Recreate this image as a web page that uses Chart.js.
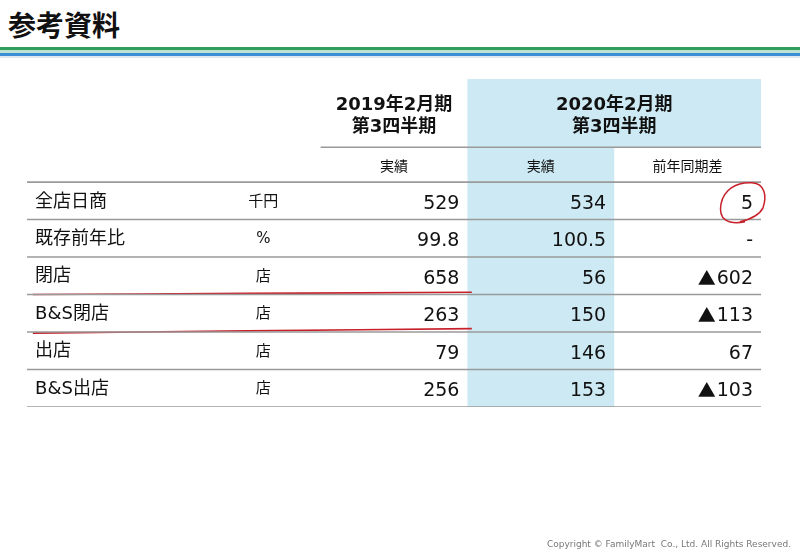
<!DOCTYPE html>
<html lang="ja">
<head>
<meta charset="utf-8">
<script src="https://cdn.jsdelivr.net/npm/chart.js@4.4.1/dist/chart.umd.min.js"></script>
<style>
  html, body { margin: 0; padding: 0; background: #fff; }
  #page { position: relative; width: 800px; height: 554px; overflow: hidden; }
  #title { position: absolute; left: 8px; top: 4px; font: bold 28px "Noto Sans CJK JP", sans-serif; color: #111; }
  .stripe { position: absolute; left: 0; width: 800px; }
  #copy { position: absolute; right: 9px; top: 539px; font: 9px "DejaVu Sans", sans-serif; color: #777; }
  #table { position: absolute; left: 0; top: 0; }
</style>
</head>
<body>
<div id="page">
  <div id="title">参考資料</div>
  <div class="stripe" style="top:47px;height:3px;background:#2e9e5e"></div>
  <div class="stripe" style="top:50px;height:3px;background:#bfe3d3"></div>
  <div class="stripe" style="top:53px;height:3px;background:#3b8fd6"></div>
  <div class="stripe" style="top:56px;height:2px;background:#dfe8f0"></div>
  <canvas id="table" width="800" height="554"></canvas>
  <div id="copy">Copyright © FamilyMart&nbsp; Co., Ltd. All Rights Reserved.</div>
</div>
<script>
// ---- table data ----
const rowLabels = ['全店日商', '既存前年比', '閉店', 'B&S閉店', '出店', 'B&S出店'];
const rowUnits = ['千円', '%', '店', '店', '店', '店'];
const fy2019 = [529, 99.8, 658, 263, 79, 256];
const fy2020 = [534, 100.5, 56, 150, 146, 153];
const yoyDiff = [5, null, -602, -113, 67, -103];
const periodHeaders = [['2019年2月期', '第3四半期'], ['2020年2月期', '第3四半期']];
const subHeaders = ['実績', '実績', '前年同期差'];
const markedRows = [2, 3];      // red underlines (hand annotation)
const circledRow = 0;           // red circle on 前年同期差

// grid in scale units: x columns at 0 | 2 | 3 | 4 | 5, rows at integer y
const colEdges = [0, 2, 3, 4, 5];
const headTop = -2.75;
const headLine = -0.93;

const fmt = (v, i) => (v === null ? '-' : (i === 1 ? v.toFixed(1) : String(Math.abs(v))));

const gridSets = [];
gridSets.push({ data: [{ x: colEdges[1], y: headLine }, { x: colEdges[4], y: headLine }] });
for (let r = 0; r <= rowLabels.length; r++) {
  gridSets.push({ data: [{ x: colEdges[0], y: r }, { x: colEdges[4], y: r }] });
}
const datasets = gridSets.map((d) => ({
  type: 'line', data: d.data, borderColor: '#9a9a9a', borderWidth: 1.6, pointRadius: 0, fill: false,
}));
markedRows.forEach((r, k) => {
  const tilt = k === 0 ? 0.04 : 0.1;
  datasets.push({
    type: 'line',
    data: [{ x: 0.04, y: r + 1 + tilt / 2 - 0.02 }, { x: 1.5, y: r + 1 - 0.03 }, { x: colEdges[2] + 0.03, y: r + 1 - tilt / 2 - 0.04 }],
    borderColor: '#c8202a', borderWidth: 1.6, pointRadius: 0, fill: false, tension: 0.3,
  });
});

const tablePlugin = {
  id: 'tablePlugin',
  beforeDatasetsDraw(chart) {
    const { ctx, scales: { x, y } } = chart;
    ctx.save();
    ctx.fillStyle = '#cdeaf4';
    const hx0 = x.getPixelForValue(colEdges[2]);
    const hx1 = x.getPixelForValue(colEdges[4]);
    const hy0 = y.getPixelForValue(headTop);
    const hy1 = y.getPixelForValue(headLine);
    ctx.fillRect(hx0, hy0, hx1 - hx0, hy1 - hy0);
    const cx1 = x.getPixelForValue(colEdges[3]);
    const by = y.getPixelForValue(rowLabels.length);
    ctx.fillRect(hx0, hy1, cx1 - hx0, by - hy1);
    ctx.restore();
  },
  afterDatasetsDraw(chart) {
    const { ctx, scales: { x, y } } = chart;
    ctx.save();
    ctx.fillStyle = '#111';
    ctx.textBaseline = 'middle';

    // period headers
    ctx.font = 'bold 18px "DejaVu Sans", "Noto Sans CJK JP"';
    ctx.textAlign = 'center';
    const hMid = y.getPixelForValue((headTop + headLine) / 2);
    periodHeaders.forEach((lines, i) => {
      const cx = i === 0
        ? (x.getPixelForValue(colEdges[1]) + x.getPixelForValue(colEdges[2])) / 2
        : (x.getPixelForValue(colEdges[2]) + x.getPixelForValue(colEdges[4])) / 2;
      ctx.fillText(lines[0], cx, hMid - 8);
      ctx.fillText(lines[1], cx, hMid + 14);
    });

    // sub headers
    ctx.font = '14px "Noto Sans CJK JP"';
    const sMid = y.getPixelForValue(headLine / 2) + 1;
    subHeaders.forEach((t, i) => {
      const cx = (x.getPixelForValue(colEdges[i + 1]) + x.getPixelForValue(colEdges[i + 2])) / 2;
      ctx.fillText(t, cx, sMid);
    });

    // rows
    rowLabels.forEach((lab, r) => {
      const cy = y.getPixelForValue(r + 0.5);
      ctx.textAlign = 'left';
      ctx.font = '18px "DejaVu Sans", "Noto Sans CJK JP"';
      ctx.fillStyle = '#111';
      ctx.fillText(lab, x.getPixelForValue(0.055), cy + 1);
      ctx.textAlign = 'center';
      ctx.font = '15px "DejaVu Sans", "Noto Sans CJK JP"';
      ctx.fillText(rowUnits[r], x.getPixelForValue(1.61), cy + 1);

      ctx.textAlign = 'right';
      const cols = [fy2019[r], fy2020[r], yoyDiff[r]];
      cols.forEach((v, c) => {
        const rx = x.getPixelForValue(colEdges[c + 2]) - 8;
        const txt = fmt(v, r);
        ctx.font = '19px "DejaVu Sans"';
        ctx.fillText(txt, rx, cy + 3);
        if (v !== null && v < 0) {
          const w = ctx.measureText(txt).width;
          ctx.font = '18px "Noto Sans CJK JP"';
          ctx.fillText('▲', rx - w - 1, cy + 2);
        }
      });
    });

    // hand-drawn circle around the circled diff
    const ccx = x.getPixelForValue(colEdges[4]) - 19;
    const ccy = y.getPixelForValue(circledRow + 0.5) + 1;
    ctx.strokeStyle = '#c8202a';
    ctx.lineWidth = 1.5;
    ctx.beginPath();
    ctx.moveTo(ccx + 3, ccy + 20);
    ctx.bezierCurveTo(ccx - 14, ccy + 23, ccx - 24, ccy + 18, ccx - 21, ccy + 2);
    ctx.bezierCurveTo(ccx - 18, ccy - 12, ccx - 6, ccy - 20, ccx + 10, ccy - 19);
    ctx.bezierCurveTo(ccx + 23, ccy - 18, ccx + 25, ccy - 6, ccx + 21, ccy + 6);
    ctx.bezierCurveTo(ccx + 18, ccy + 12, ccx + 10, ccy + 17, ccx - 2, ccy + 20);
    ctx.stroke();
    ctx.restore();
  },
};

new Chart(document.getElementById('table').getContext('2d'), {
  type: 'line',
  data: { datasets },
  options: {
    responsive: false,
    animation: false,
    layout: { padding: { left: 27, right: 39, top: 79, bottom: 147 } },
    plugins: { legend: { display: false }, tooltip: { enabled: false } },
    scales: {
      x: { type: 'linear', min: 0, max: 5, display: false },
      y: { type: 'linear', min: headTop, max: rowLabels.length, reverse: true, display: false },
    },
  },
  plugins: [tablePlugin],
});
</script>
</body>
</html>
